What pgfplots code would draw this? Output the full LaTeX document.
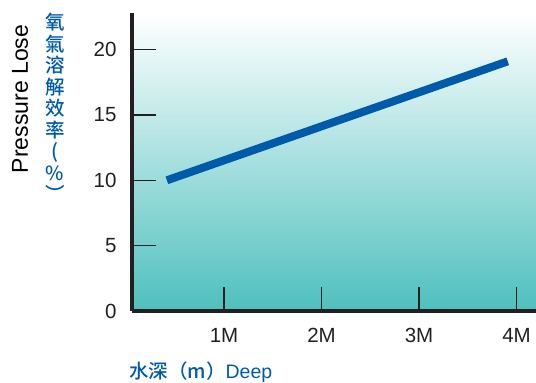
\documentclass[border=0pt]{standalone}
\usepackage{pgfplots}
\pgfplotsset{compat=1.18}
\usepackage{fontspec}
\setmainfont{Liberation Sans}
\newfontfamily\cjk{Noto Sans CJK TC Medium}
\definecolor{tealbot}{RGB}{78,192,190}
\definecolor{lineblue}{RGB}{0,90,170}
\definecolor{axisdark}{RGB}{35,31,32}
\begin{document}
\begin{tikzpicture}[x=1pt,y=1pt]
\path[use as bounding box] (0,0) rectangle (536,383);
\begin{axis}[
  at={(132pt,72pt)}, anchor=south west,
  scale only axis, width=404pt, height=298pt,
  xmin=0.056, xmax=4.2, ymin=0, ymax=22.8,
  axis x line=bottom, axis y line=left,
  axis line style={-, line width=3.5pt, color=axisdark},
  xtick={1,2,3,4}, xticklabels={1M,2M,3M,4M},
  ytick={0,5,10,15,20},
  tick align=inside, major tick length=24pt,
  tick style={line width=1.5pt, color=axisdark},
  ticklabel style={font=\fontsize{20.5}{20.5}\selectfont, text=axisdark},
  yticklabel style={anchor=east, xshift=-12pt},
  xticklabel style={anchor=center, yshift=-24pt},
  /pgf/number format/assume math mode=true,
  axis background/.style={top color=white, bottom color=tealbot},
]
\addplot[lineblue, line width=8pt] coordinates {(0.414,10.0) (3.91,19.1)};
\end{axis}
\node[rotate=90, font=\fontsize{23}{23}\selectfont, text=black] at (20,284) {Pressure Lose};
\node[anchor=north, align=center, text=lineblue, inner sep=0pt,
      font=\cjk\fontsize{19.5}{21.5}\selectfont] at (55,370)
  {氧\\氣\\溶\\解\\效\\率\\(\\\%\\︶};
\node[anchor=west, inner sep=0pt, text=lineblue, font=\fontsize{19.5}{19.5}\selectfont] at (129,11)
  {{\cjk 水深（m）}Deep};
\end{tikzpicture}
\end{document}
